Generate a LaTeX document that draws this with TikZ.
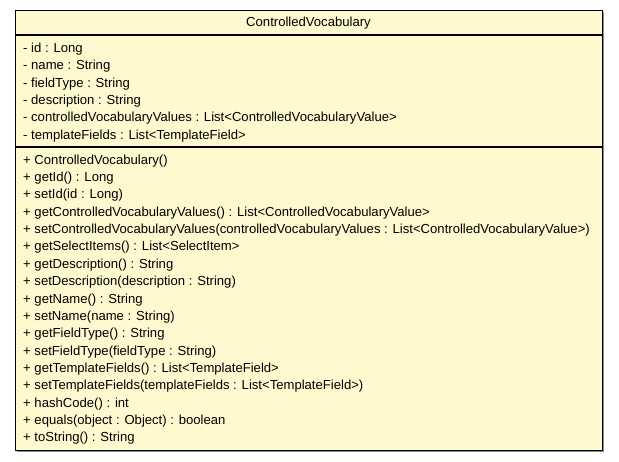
\documentclass[tikz,border=0pt]{standalone}
\usepackage{fontspec}
\setmainfont{Liberation Sans}
\definecolor{umlfill}{RGB}{255,249,208}
\definecolor{umlshadow}{RGB}{140,140,140}
\begin{document}
\begin{tikzpicture}[x=1pt,y=-1pt,
  member/.style={anchor=base west,inner sep=0pt,font=\fontsize{13.1}{15}\selectfont},
  titletext/.style={anchor=base,inner sep=0pt,font=\fontsize{13.1}{15}\selectfont}]
\useasboundingbox (0,0) rectangle (619,461);
% shadow
\draw[umlshadow,line width=1pt] (17,451.5) -- (603.5,451.5) -- (603.5,12);
% box
\node[draw=black,fill=umlfill,line width=1pt,minimum width=587pt,minimum height=440pt,inner sep=0pt,anchor=north west] (box) at (15,10) {};
\draw[line width=1.2pt] (15,35) -- (602,35);
\draw[line width=1.2pt] (15,147) -- (602,147);
\node[titletext] (title) at (308.5,26.8) {ControlledVocabulary};
\foreach \t [count=\i from 0] in {
  {- id : Long},
  {- name : String},
  {- fieldType : String},
  {- description : String},
  {- controlledVocabularyValues : List<ControlledVocabularyValue>},
  {- templateFields : List<TemplateField>}}
  \node[member] (attr\i) at (23,52.5+17.35*\i) {\t};
\foreach \t [count=\i from 0] in {
  {+ ControlledVocabulary()},
  {+ getId() : Long},
  {+ setId(id : Long)},
  {+ getControlledVocabularyValues() : List<ControlledVocabularyValue>},
  {+ setControlledVocabularyValues(controlledVocabularyValues : List<ControlledVocabularyValue>)},
  {+ getSelectItems() : List<SelectItem>},
  {+ getDescription() : String},
  {+ setDescription(description : String)},
  {+ getName() : String},
  {+ setName(name : String)},
  {+ getFieldType() : String},
  {+ setFieldType(fieldType : String)},
  {+ getTemplateFields() : List<TemplateField>},
  {+ setTemplateFields(templateFields : List<TemplateField>)},
  {+ hashCode() : int},
  {+ equals(object : Object) : boolean},
  {+ toString() : String}}
  \node[member] (op\i) at (23,164.2+17.35*\i) {\t};
\end{tikzpicture}
\end{document}
